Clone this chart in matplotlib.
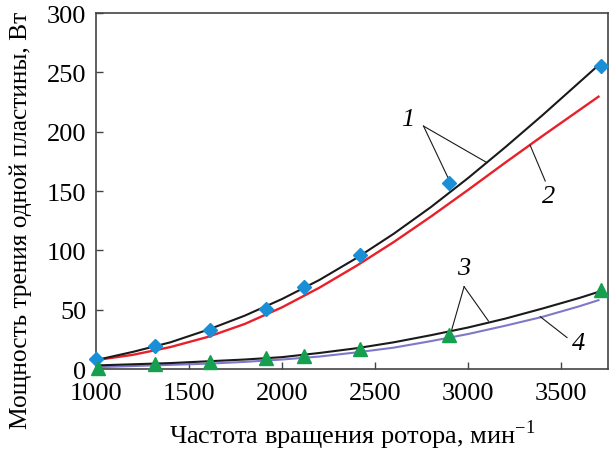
import numpy as np
import matplotlib.pyplot as plt

plt.rcParams['font.family'] = ['Liberation Serif', 'DejaVu Serif']
plt.rcParams['mathtext.fontset'] = 'custom'
plt.rcParams['mathtext.rm'] = 'Liberation Serif'

# measured points
x_pts = [1000, 1315, 1610, 1915, 2120, 2420, 2895, 3715]
p_diam = [8.7, 19.1, 32.8, 50.9, 69.4, 95.8, 157.0, 255.6]
x_tri = [1010, 1315, 1610, 1915, 2120, 2420, 2895, 3715]
p_tri = [1.0, 4.0, 6.2, 9.6, 11.0, 16.6, 28.4, 66.6]

# curves
x_curve = [1000, 1200, 1400, 1600, 1800, 2000, 2200, 2400, 2600, 2800,
           3000, 3200, 3400, 3600, 3700]
curve1 = [7.5, 14.5, 22.5, 33, 45, 59, 75, 93.5, 114, 136.5,
          161, 187, 214, 242, 256]
curve2 = [7.5, 12, 18.5, 27, 38, 52, 68.5, 87, 107, 128.5,
          151, 174, 196.5, 218.5, 229.5]
curve3 = [3, 4, 5, 6.5, 8, 10, 13.5, 17.5, 22.5, 28.5,
          35, 42.5, 51, 60, 65]
curve4 = [1.5, 2.5, 3.5, 4.5, 6, 8, 10.5, 14, 18, 23.5,
          29.5, 36.5, 44, 53, 58]

fig = plt.figure(figsize=(6.09, 4.52), dpi=100)
ax = fig.add_axes([0.1576, 0.1814, 0.8404, 0.7876])

ax.plot(x_curve, curve2, color='#e8202a', lw=1.7, zorder=2)
ax.plot(x_curve, curve1, color='#1a1a1a', lw=1.5, zorder=3)
ax.plot(x_curve, curve4, color='#7f78c8', lw=1.5, zorder=2)
ax.plot(x_curve, curve3, color='#1a1a1a', lw=1.5, zorder=3)

ax.plot(x_pts, p_diam, ls='none', marker='D', ms=7, color='#1a8fd6', zorder=5, clip_on=False)
ax.plot(x_tri, p_tri, ls='none', marker='^', ms=9.5, color='#14a04e', zorder=5, clip_on=False)

# number labels with leader lines
lab_kw = dict(fontsize=19, style='italic', ha='center', va='center')
line_kw = dict(color='#1a1a1a', lw=0.8, zorder=4)
ax.text(2677, 211, '1', **lab_kw)
ax.plot([2760, 2900], [204.7, 158.4], **line_kw)
ax.plot([2760, 3101], [204.7, 173.9], **line_kw)
ax.text(3432, 145.7, '2', **lab_kw)
ax.plot([3414, 3333], [158.4, 188.5], **line_kw)
ax.text(2975, 85.4, '3', **lab_kw)
ax.plot([2978, 2912], [69.4, 33.4], **line_kw)
ax.plot([2978, 3109], [69.4, 40.4], **line_kw)
ax.text(3593, 22.2, '4', **lab_kw)
ax.plot([3531, 3387], [26.5, 44.1], **line_kw)

ax.set_xlim(1000, 3750)
ax.set_ylim(0, 300)
ax.set_xticks([1000, 1500, 2000, 2500, 3000, 3500])
ax.set_yticks([0, 50, 100, 150, 200, 250, 300])
ax.tick_params(direction='in', length=5, width=1, labelsize=19, pad=7, color='#444444')
ax.tick_params(axis='x', pad=9)
for s in ax.spines.values():
    s.set_color('#444444')
    s.set_linewidth(1.2)

ax.set_xlabel('Частота вращения ротора, мин$^{-1}$', fontsize=19)
ax.xaxis.set_label_coords(0.5, -0.135)
ax.set_ylabel('Мощность трения одной пластины, Вт', fontsize=18.3)
ax.yaxis.set_label_coords(-0.125, 0.42)

fig.savefig('out.png', dpi=100)
